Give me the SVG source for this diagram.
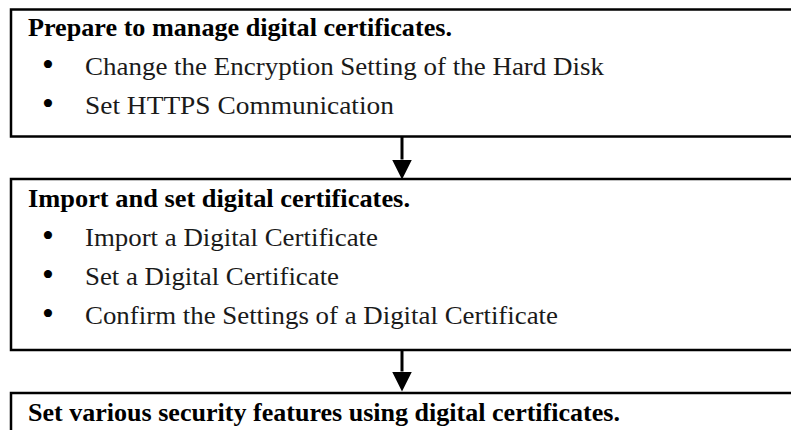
<svg xmlns="http://www.w3.org/2000/svg" width="791" height="430" viewBox="0 0 791 430">
  <style>
    .box { fill: #ffffff; stroke: #000000; stroke-width: 2.5; }
    .title { font-family: "Liberation Serif", "DejaVu Serif", serif; font-size: 25px; font-weight: bold; fill: #000000; }
    .item { font-family: "Liberation Serif", "DejaVu Serif", serif; font-size: 25px; fill: #1a1a1a; }
    .bullet { font-family: "Liberation Serif", "DejaVu Serif", serif; font-size: 34px; fill: #000000; text-anchor: middle; }
    .conn { stroke: #000000; stroke-width: 3; fill: none; }
  </style>
  <defs>
    <marker id="arrow" viewBox="0 0 20 20" refX="0" refY="10" markerWidth="20" markerHeight="20" markerUnits="userSpaceOnUse" orient="auto">
      <path d="M0,0 L20,10 L0,20 z" fill="#000000"/>
    </marker>
  </defs>
  <rect width="791" height="430" fill="#ffffff"/>

  <g id="node-prepare">
    <rect class="box" x="11" y="9.5" width="800" height="127"/>
    <text class="title" x="28" y="36" textLength="424" lengthAdjust="spacingAndGlyphs">Prepare to manage digital certificates.</text>
    <text class="bullet" x="48" y="76">•</text>
    <text class="item" x="85" y="75" textLength="519" lengthAdjust="spacingAndGlyphs">Change the Encryption Setting of the Hard Disk</text>
    <text class="bullet" x="48" y="115">•</text>
    <text class="item" x="85" y="114" textLength="309" lengthAdjust="spacingAndGlyphs">Set HTTPS Communication</text>
  </g>

  <g id="node-import">
    <rect class="box" x="11" y="179" width="800" height="171"/>
    <text class="title" x="28" y="207" textLength="382" lengthAdjust="spacingAndGlyphs">Import and set digital certificates.</text>
    <text class="bullet" x="48" y="247">•</text>
    <text class="item" x="85" y="246" textLength="293" lengthAdjust="spacingAndGlyphs">Import a Digital Certificate</text>
    <text class="bullet" x="48" y="286">•</text>
    <text class="item" x="85" y="285" textLength="254" lengthAdjust="spacingAndGlyphs">Set a Digital Certificate</text>
    <text class="bullet" x="48" y="325">•</text>
    <text class="item" x="85" y="324" textLength="473" lengthAdjust="spacingAndGlyphs">Confirm the Settings of a Digital Certificate</text>
  </g>

  <g id="node-security">
    <rect class="box" x="11" y="393" width="800" height="60"/>
    <text class="title" x="28" y="421" textLength="592" lengthAdjust="spacingAndGlyphs">Set various security features using digital certificates.</text>
  </g>

  <g id="connectors">
    <line class="conn" x1="402" y1="137" x2="402" y2="159.5" marker-end="url(#arrow)"/>
    <line class="conn" x1="402" y1="350" x2="402" y2="371.5" marker-end="url(#arrow)"/>
  </g>
</svg>
